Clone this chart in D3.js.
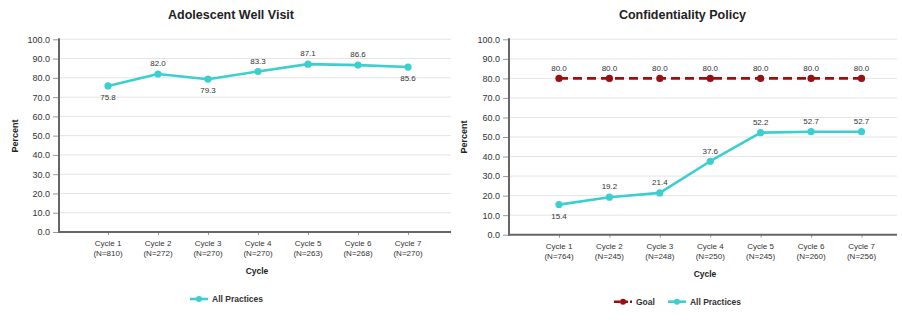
<!DOCTYPE html>
<html>
<head>
<meta charset="utf-8">
<script src="https://cdn.jsdelivr.net/npm/d3@7"></script>
<style>
  html, body { margin: 0; padding: 0; background: #fff; }
  svg { display: block; }
  text { font-family: "Liberation Sans", Arial, sans-serif; }
</style>
</head>
<body>
<svg id="chart" width="902" height="322"></svg>
<script>
// ---- Data ----
const yTicks = [0, 10, 20, 30, 40, 50, 60, 70, 80, 90, 100];

const wellCycles = ["Cycle 1", "Cycle 2", "Cycle 3", "Cycle 4", "Cycle 5", "Cycle 6", "Cycle 7"];
const wellN = ["(N=810)", "(N=272)", "(N=270)", "(N=270)", "(N=263)", "(N=268)", "(N=270)"];
const wellAll = [75.8, 82.0, 79.3, 83.3, 87.1, 86.6, 85.6];
const wellLabelPos = ["below", "above", "below", "above", "above", "above", "below"];

const confCycles = ["Cycle 1", "Cycle 2", "Cycle 3", "Cycle 4", "Cycle 5", "Cycle 6", "Cycle 7"];
const confN = ["(N=764)", "(N=245)", "(N=248)", "(N=250)", "(N=245)", "(N=260)", "(N=256)"];
const confGoal = [80.0, 80.0, 80.0, 80.0, 80.0, 80.0, 80.0];
const confAll = [15.4, 19.2, 21.4, 37.6, 52.2, 52.7, 52.7];
const confLabelPos = ["below", "above", "above", "above", "above", "above", "above"];

const CYAN = "#3ccfcf";
const DARKRED = "#9a0f0f";

const svg = d3.select("#chart");

function drawChart(o) {
  const g = svg.append("g");
  const y = d3.scaleLinear().domain([0, 100]).range([o.yBottom, o.yTop]);
  const x = d3.scalePoint().domain(o.cats).range([o.firstX, o.lastX]);

  // title
  g.append("text").attr("x", o.titleX).attr("y", 19)
    .attr("text-anchor", "middle").attr("font-size", 12.5).attr("font-weight", "bold")
    .attr("fill", "#222").text(o.title);

  // gridlines
  g.selectAll(".grid").data(yTicks.filter(d => d > 0)).enter().append("line")
    .attr("x1", o.axisX + 1).attr("x2", o.rightX)
    .attr("y1", d => y(d)).attr("y2", d => y(d))
    .attr("stroke", "#e4e4e4").attr("stroke-width", 1);

  // y axis
  const yAxis = d3.axisLeft(y).tickValues(yTicks).tickFormat(d3.format(".1f"))
    .tickSize(6).tickPadding(3);
  const ya = g.append("g").attr("transform", `translate(${o.axisX},0)`).call(yAxis);
  ya.select(".domain").remove();
  ya.selectAll(".tick line").attr("stroke", "#999");
  ya.selectAll(".tick text").attr("font-size", 9).attr("fill", "#333")
    .attr("font-family", "Liberation Sans, Arial, sans-serif");
  g.append("line").attr("x1", o.axisX).attr("x2", o.axisX)
    .attr("y1", y(100) - 1).attr("y2", o.yBottom + 1)
    .attr("stroke", "#666").attr("stroke-width", 2);

  // x axis
  const xAxis = d3.axisBottom(x).tickSize(3).tickFormat("");
  const xa = g.append("g").attr("transform", `translate(0,${o.yBottom})`).call(xAxis);
  xa.select(".domain").remove();
  xa.selectAll(".tick line").attr("stroke", "#999");
  g.append("line").attr("x1", o.axisX - 1).attr("x2", o.rightX)
    .attr("y1", o.yBottom).attr("y2", o.yBottom)
    .attr("stroke", "#666").attr("stroke-width", 2);

  // category labels
  const cl = g.selectAll(".cat").data(o.cats).enter().append("text")
    .attr("text-anchor", "middle").attr("font-size", 8).attr("fill", "#333");
  cl.append("tspan").attr("x", d => x(d)).attr("y", o.catY).text(d => d);
  cl.append("tspan").attr("x", d => x(d)).attr("y", o.catY + 10).text((d, i) => o.ns[i]);

  // axis titles
  g.append("text").attr("x", (o.axisX + o.rightX) / 2 + 2).attr("y", o.catY + 28)
    .attr("text-anchor", "middle").attr("font-size", 8.5).attr("font-weight", "bold")
    .attr("fill", "#222").text("Cycle");
  g.append("text").attr("transform", `translate(${o.percentX},${o.percentY}) rotate(-90)`)
    .attr("text-anchor", "middle").attr("font-size", 9).attr("font-weight", "bold")
    .attr("fill", "#222").text("Percent");

  const line = d3.line().x((d, i) => x(o.cats[i])).y(d => y(d));

  function series(vals, color, dashed, posArr) {
    g.append("path").datum(vals).attr("d", line).attr("fill", "none")
      .attr("stroke", color).attr("stroke-width", dashed ? 2.6 : 2.6)
      .attr("stroke-dasharray", dashed ? "9,5" : null)
      .attr("stroke-linejoin", "round");
    g.selectAll(null).data(vals).enter().append("circle")
      .attr("cx", (d, i) => x(o.cats[i])).attr("cy", d => y(d)).attr("r", 3.6)
      .attr("fill", color);
    g.selectAll(null).data(vals).enter().append("text")
      .attr("x", (d, i) => x(o.cats[i]))
      .attr("y", (d, i) => y(d) + (posArr[i] === "above" ? -10.5 : 11.5))
      .attr("dy", "0.35em").attr("text-anchor", "middle").attr("font-size", 8)
      .attr("fill", "#333").text(d => d.toFixed(1));
  }
  o.series.forEach(s => series(s.vals, s.color, s.dashed, s.pos));

  // legend
  let lx = o.legendX;
  o.series.forEach(s => {
    const lg = g.append("g");
    lg.append("line").attr("x1", lx).attr("x2", lx + 18).attr("y1", o.legendY).attr("y2", o.legendY)
      .attr("stroke", s.color).attr("stroke-width", 2.6)
      .attr("stroke-dasharray", s.dashed ? "6,2" : null);
    lg.append("circle").attr("cx", lx + 9).attr("cy", o.legendY).attr("r", 3).attr("fill", s.color);
    const t = lg.append("text").attr("x", lx + 22).attr("y", o.legendY).attr("dy", "0.35em")
      .attr("font-size", 8.5).attr("font-weight", "bold").attr("fill", "#333").text(s.name);
    lx += 22 + t.node().getComputedTextLength() + 13;
  });
}

drawChart({
  title: "Adolescent Well Visit", titleX: 231,
  cats: wellCycles, ns: wellN,
  axisX: 59, rightX: 451, yTop: 39.3, yBottom: 232,
  firstX: 108, lastX: 408, catY: 246,
  percentX: 17.5, percentY: 136,
  legendX: 190, legendY: 299,
  series: [{ name: "All Practices", vals: wellAll, color: CYAN, dashed: false, pos: wellLabelPos }]
});

drawChart({
  title: "Confidentiality Policy", titleX: 682.5,
  cats: confCycles, ns: confN,
  axisX: 509, rightX: 897, yTop: 39.3, yBottom: 234.7,
  firstX: 559, lastX: 861.5, catY: 248.5,
  percentX: 466.5, percentY: 137,
  legendX: 614, legendY: 301.7,
  series: [
    { name: "Goal", vals: confGoal, color: DARKRED, dashed: true, pos: confGoal.map(() => "above") },
    { name: "All Practices", vals: confAll, color: CYAN, dashed: false, pos: confLabelPos }
  ]
});
</script>
</body>
</html>
